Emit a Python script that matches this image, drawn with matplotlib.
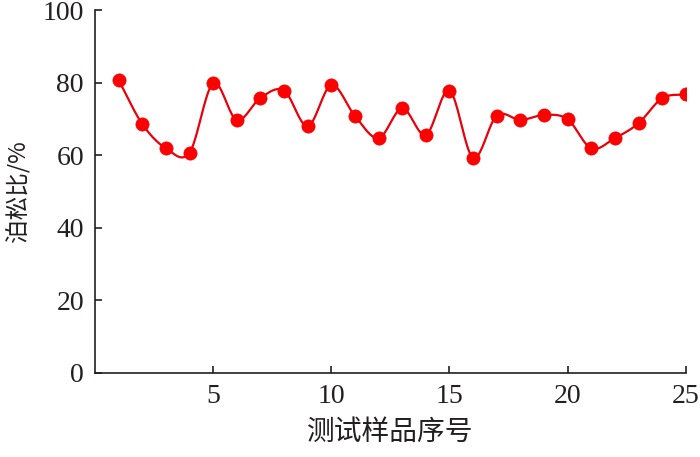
import numpy as np
import matplotlib
matplotlib.use('Agg')
import matplotlib.pyplot as plt

# sample index and Poisson ratio (%)
samples = np.arange(1, 26)
poisson = [80.7, 68.6, 61.9, 60.7, 79.8, 69.7, 75.8, 77.8, 68.0, 79.3,
           70.8, 64.7, 72.9, 65.6, 77.8, 59.3, 70.9, 69.7, 71.1, 69.9,
           61.9, 64.7, 68.8, 75.7, 76.8]

x_ticks = [5, 10, 15, 20, 25]
y_ticks = [0, 20, 40, 60, 80, 100]


def catmull_rom(x, y, n=20):
    # smooth curve through the points (for drawing the line only)
    x = np.asarray(x, float)
    y = np.asarray(y, float)
    px = np.concatenate([[2 * x[0] - x[1]], x, [2 * x[-1] - x[-2]]])
    py = np.concatenate([[2 * y[0] - y[1]], y, [2 * y[-1] - y[-2]]])
    xs, ys = [], []
    t = np.linspace(0, 1, n, endpoint=False)
    for i in range(1, len(px) - 2):
        for arr, out in ((px, xs), (py, ys)):
            p0, p1, p2, p3 = arr[i - 1], arr[i], arr[i + 1], arr[i + 2]
            out.append(0.5 * (2 * p1 + (-p0 + p2) * t
                              + (2 * p0 - 5 * p1 + 4 * p2 - p3) * t ** 2
                              + (-p0 + 3 * p1 - 3 * p2 + p3) * t ** 3))
    xs.append([x[-1]])
    ys.append([y[-1]])
    return np.concatenate(xs), np.concatenate(ys)


serif = ['Liberation Serif', 'DejaVu Serif']
cjk = ['Noto Sans CJK SC', 'DejaVu Sans']

fig = plt.figure(figsize=(7, 4.57), dpi=100)
ax = fig.add_axes([0.1357, 0.184, 0.844, 0.794])

cx, cy = catmull_rom(samples, poisson)
ax.plot(cx, cy, color='#e8000b', lw=1.6, zorder=2)
ax.plot(samples, poisson, 'o', color='#ff0000', ms=9.5, mec='#f00000', mew=0.5, zorder=3)

ax.set_xlim(0, 25)
ax.set_ylim(0, 100)
ax.set_xticks(x_ticks)
ax.set_yticks(y_ticks)
ax.tick_params(direction='in', length=5, width=1.2, colors='#231f20', pad=8)
for lab in ax.get_xticklabels() + ax.get_yticklabels():
    lab.set_family(serif)
    lab.set_fontsize(20)
    lab.set_color('#231f20')

for s in ['top', 'right']:
    ax.spines[s].set_visible(False)
for s in ['left', 'bottom']:
    ax.spines[s].set_linewidth(1.2)
    ax.spines[s].set_color('#231f20')

ax.set_xlabel('测试样品序号', family=cjk, fontsize=20, color='#231f20', labelpad=6)
ax.set_ylabel('泊松比/%', family=cjk, fontsize=17, color='#231f20', labelpad=9)

fig.savefig('out.png', dpi=100)
